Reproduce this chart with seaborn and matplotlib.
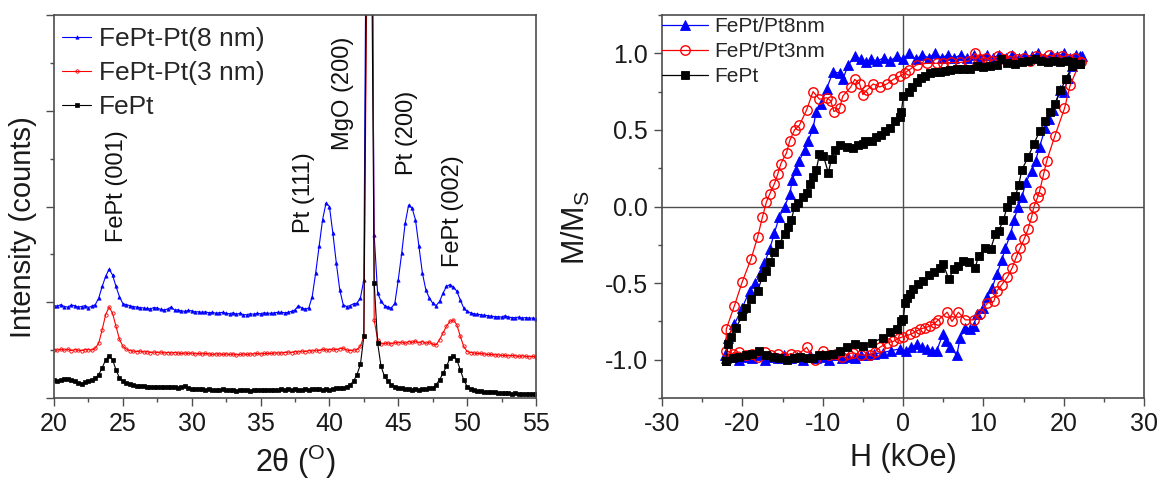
import numpy as np
import pandas as pd
import matplotlib
matplotlib.use("Agg")
import matplotlib.pyplot as plt
from matplotlib.ticker import MultipleLocator
import seaborn as sns

# ---------------- XRD data (left panel) ----------------
two_theta_start, two_theta_stop, two_theta_step = 20.0, 55.0, 0.25
xrd_pt8 = [
    1.93, 1.92, 1.95, 1.91, 1.90, 1.94, 1.93, 1.90, 1.91, 1.93, 1.89, 1.92, 1.95, 2.09, 2.33, 2.54,
    2.69, 2.57, 2.33, 2.12, 1.97, 1.95, 1.93, 1.91, 1.90, 1.89, 1.88, 1.87, 1.86, 1.89, 1.88, 1.85,
    1.84, 1.86, 1.90, 1.84, 1.84, 1.82, 1.81, 1.83, 1.82, 1.80, 1.80, 1.79, 1.80, 1.78, 1.79, 1.77,
    1.78, 1.79, 1.77, 1.76, 1.78, 1.75, 1.77, 1.74, 1.74, 1.76, 1.75, 1.77, 1.76, 1.78, 1.77, 1.77,
    1.78, 1.79, 1.79, 1.78, 1.79, 1.81, 1.84, 1.93, 1.88, 1.86, 1.88, 2.12, 2.61, 3.17, 3.72, 4.07,
    4.00, 3.44, 2.82, 2.26, 1.95, 1.91, 1.93, 1.97, 1.98, 2.09, 2.47, 14.0, 14.0, 3.40, 2.19, 2.02,
    1.93, 1.90, 1.88, 1.98, 2.47, 3.03, 3.65, 4.03, 3.97, 3.72, 3.17, 2.61, 2.26, 2.09, 1.98, 1.93,
    2.02, 2.19, 2.33, 2.37, 2.32, 2.23, 2.05, 1.88, 1.81, 1.78, 1.76, 1.75, 1.74, 1.73, 1.72, 1.71,
    1.70, 1.70, 1.69, 1.72, 1.69, 1.68, 1.68, 1.69, 1.67, 1.68, 1.67, 1.67, 1.66,
]
xrd_pt3 = [
    1.01, 1.00, 1.02, 1.00, 1.02, 0.99, 1.01, 1.00, 0.99, 1.01, 1.01, 1.00, 1.04, 1.15, 1.43, 1.74,
    1.90, 1.77, 1.50, 1.23, 1.08, 1.02, 0.99, 0.98, 0.97, 0.98, 0.96, 0.97, 0.95, 0.96, 0.95, 0.96,
    0.94, 0.95, 0.94, 0.95, 0.94, 0.93, 0.94, 0.93, 0.94, 0.92, 0.93, 0.92, 0.93, 0.92, 0.91, 0.92,
    0.92, 0.91, 0.92, 0.91, 0.92, 0.90, 0.91, 0.92, 0.91, 0.92, 0.92, 0.93, 0.92, 0.93, 0.93, 0.93,
    0.94, 0.94, 0.94, 0.95, 0.96, 0.95, 0.97, 0.96, 0.98, 0.97, 0.99, 0.98, 1.00, 0.99, 1.02, 1.00,
    1.01, 1.02, 1.01, 1.03, 1.04, 1.00, 0.99, 1.00, 1.01, 1.08, 1.29, 10.0, 20.0, 1.63, 1.22, 1.13,
    1.14, 1.15, 1.13, 1.16, 1.15, 1.17, 1.14, 1.18, 1.16, 1.19, 1.15, 1.18, 1.14, 1.17, 1.12, 1.11,
    1.22, 1.36, 1.50, 1.60, 1.63, 1.53, 1.29, 1.08, 0.97, 0.95, 0.94, 0.93, 0.93, 0.92, 0.91, 0.91,
    0.90, 0.90, 0.89, 0.89, 0.88, 0.89, 0.88, 0.87, 0.88, 0.87, 0.86, 0.87, 0.86,
]
xrd_fept = [
    0.38, 0.36, 0.37, 0.39, 0.40, 0.37, 0.35, 0.32, 0.30, 0.33, 0.35, 0.38, 0.42, 0.49, 0.63, 0.80,
    0.88, 0.80, 0.59, 0.42, 0.35, 0.32, 0.30, 0.28, 0.26, 0.25, 0.25, 0.24, 0.24, 0.23, 0.24, 0.23,
    0.23, 0.22, 0.22, 0.24, 0.21, 0.22, 0.25, 0.21, 0.19, 0.19, 0.18, 0.19, 0.17, 0.18, 0.17, 0.16,
    0.17, 0.18, 0.16, 0.17, 0.16, 0.15, 0.16, 0.17, 0.16, 0.15, 0.16, 0.17, 0.16, 0.17, 0.16, 0.17,
    0.17, 0.16, 0.18, 0.17, 0.19, 0.17, 0.18, 0.17, 0.17, 0.18, 0.17, 0.19, 0.19, 0.18, 0.17, 0.18,
    0.17, 0.19, 0.21, 0.20, 0.21, 0.24, 0.28, 0.35, 0.49, 0.70, 1.29, 12.0, 12.0, 2.40, 1.15, 0.66,
    0.45, 0.35, 0.28, 0.24, 0.21, 0.20, 0.19, 0.18, 0.17, 0.18, 0.17, 0.18, 0.19, 0.20, 0.21, 0.28,
    0.38, 0.52, 0.66, 0.83, 0.88, 0.80, 0.59, 0.38, 0.24, 0.18, 0.16, 0.15, 0.14, 0.13, 0.13, 0.12,
    0.12, 0.11, 0.10, 0.11, 0.10, 0.09, 0.10, 0.09, 0.08, 0.09, 0.08, 0.08, 0.08,
]
xrd_labels = ["FePt-Pt(8 nm)", "FePt-Pt(3 nm)", "FePt"]
peak_names = ["FePt (001)", "Pt (111)", "MgO (200)", "Pt (200)", "FePt (002)"]
peak_pos = [24.55, 38.16, 40.99, 45.64, 48.98]
peak_text_y = [3.26, 3.44, 5.18, 4.66, 2.73]

# ---------------- Hysteresis data (right panel) ----------------
H_pt8 = [22.3, 21.5, 20.8, 20.0, 19.2, 18.4, 17.6, 16.8, 16.0, 15.2, 14.4, 13.6, 12.8, 12.0, 11.2, 10.4,
         9.6, 8.8, 8.0, 7.2, 6.4, 5.6, 4.8, 4.0, 3.2, 2.4, 1.6, 0.8, 0.0, -0.8, -1.6, -2.4, -3.2, -4.0,
         -4.6, -5.2, -6.0, -6.8, -7.5, -7.9, -8.7, -9.5, -10.2, -10.8, -11.2, -11.8, -12.25, -12.9,
         -13.3, -13.8, -14.1, -14.75, -15.4, -16.0, -16.6, -17.25, -17.7, -18.4, -19.1, -20.0, -21.0,
         -21.8, -22.1,
         -22.0, -21.2, -20.4, -19.6, -18.8, -18.0, -17.2, -16.4, -15.6, -14.8, -14.0, -13.2, -12.4,
         -11.6, -10.8, -10.0, -9.2, -8.4, -7.6, -6.8, -6.0, -5.2, -4.5, -3.6, -2.5, -1.5, -0.4, 0.4,
         1.0, 1.7, 2.4, 3.0, 3.6, 4.2, 5.0, 5.4, 5.9, 6.7, 7.1, 7.75, 8.3, 8.8, 9.2, 10.0, 10.5, 11.1,
         11.7, 12.3, 12.75, 13.4, 13.8, 14.35, 14.8, 15.3, 16.0, 16.5, 17.0, 17.7, 18.2, 18.7, 19.6,
         20.0, 20.6, 21.05, 22.0]
M_pt8 = [0.98, 0.99, 0.97, 1.00, 0.98, 0.99, 0.97, 1.00, 0.98, 0.99, 0.97, 0.99, 0.97, 0.99, 0.97, 0.99,
         0.97, 0.99, 0.97, 0.99, 0.97, 0.99, 0.97, 1.00, 0.97, 0.99, 0.96, 1.00, 0.96, 0.98, 0.95, 0.97,
         0.95, 0.96, 0.94, 0.96, 0.98, 0.925, 0.83, 0.87, 0.88, 0.77, 0.67, 0.62, 0.51, 0.43, 0.37, 0.30,
         0.24, 0.17, 0.08, 0.0, -0.07, -0.17, -0.28, -0.37, -0.43, -0.50, -0.55, -0.66, -0.77, -0.86,
         -0.97,
         -0.99, -0.98, -1.00, -0.98, -0.99, -0.97, -1.00, -0.98, -0.99, -0.97, -0.99, -0.98, -1.00,
         -0.97, -0.99, -0.98, -1.00, -0.97, -0.99, -0.98, -0.99, -0.97, -0.97, -0.96, -0.955, -0.94,
         -0.93, -0.94, -0.92, -0.90, -0.92, -0.93, -0.94, -0.94, -0.83, -0.88, -0.92, -0.97, -0.86,
         -0.79, -0.80, -0.78, -0.70, -0.66, -0.59, -0.53, -0.44, -0.35, -0.27, -0.18, -0.09, 0.0, 0.06,
         0.16, 0.23, 0.30, 0.39, 0.51, 0.57, 0.63, 0.76, 0.75, 0.84, 0.92, 0.98]

H_pt3 = [22.2, 21.4, 20.6, 19.8, 19.0, 18.2, 17.4, 16.6, 15.8, 15.0, 14.2, 13.4, 12.6, 11.8, 11.0, 10.3,
         9.6, 9.0, 8.2, 7.1, 6.0, 5.0, 4.2, 3.0, 1.7, 0.7, 0.2, -0.4, -1.2, -2.0, -2.9, -3.7, -4.5,
         -5.0, -5.4, -6.0, -6.5, -7.5, -7.9, -8.6, -9.0, -9.5, -10.4, -11.2, -12.0, -12.9, -13.5,
         -14.1, -14.5, -15.2, -15.6, -16.0, -16.6, -17.0, -17.5, -18.1, -18.9, -20.0, -21.0, -22.0,
         -22.0, -21.2, -20.4, -19.6, -18.8, -18.0, -17.2, -16.4, -15.6, -14.8, -14.0, -13.2, -12.0,
         -11.0, -10.0, -9.2, -8.4, -7.6, -6.8, -6.2, -5.2, -4.1, -3.5, -2.9, -2.0, -1.2, -0.5, 0.0,
         0.9, 1.5, 2.1, 2.8, 3.4, 4.0, 4.4, 5.5, 6.1, 6.9, 7.75, 8.8, 9.6, 10.5, 11.3, 11.7, 12.3,
         13.0, 13.6, 14.1, 14.6, 15.1, 15.55, 16.0, 16.3, 16.75, 17.0, 17.5, 17.9, 18.9, 20.1, 20.8,
         22.0]
M_pt3 = [0.94, 0.97, 0.96, 0.98, 0.97, 0.99, 0.96, 0.98, 0.95, 0.97, 0.96, 0.98, 0.96, 0.98, 0.95, 0.97,
         0.96, 1.00, 0.95, 0.94, 0.94, 0.935, 0.935, 0.935, 0.925, 0.89, 0.87, 0.85, 0.83, 0.80, 0.78,
         0.80, 0.76, 0.73, 0.80, 0.83, 0.78, 0.72, 0.64, 0.62, 0.69, 0.71, 0.70, 0.75, 0.63, 0.53,
         0.50, 0.43, 0.35, 0.28, 0.21, 0.15, 0.08, 0.03, -0.07, -0.20, -0.34, -0.49, -0.65, -0.80,
         -0.94, -0.96, -0.95, -0.97, -0.96, -0.98, -0.95, -0.97, -0.96, -0.98, -0.96, -0.97, -0.92,
         -1.00, -0.94, -0.97, -0.96, -0.98, -0.96, -0.955, -0.97, -0.97, -0.95, -0.92, -0.89, -0.88,
         -0.86, -0.85, -0.835, -0.82, -0.80, -0.79, -0.78, -0.76, -0.74, -0.69, -0.75, -0.69, -0.74,
         -0.74, -0.70, -0.63, -0.62, -0.55, -0.51, -0.46, -0.40, -0.33, -0.27, -0.21, -0.15, -0.07,
         0.0, 0.06, 0.10, 0.21, 0.30, 0.46, 0.64, 0.79, 0.94]

H_fept = [22.0, 21.2, 20.4, 19.6, 18.8, 18.0, 17.2, 16.4, 15.6, 14.8, 14.0, 13.0, 12.2, 11.7, 10.8, 10.0,
          9.2, 8.4, 7.5, 6.7, 5.9, 5.2, 4.6, 4.0, 3.4, 2.8, 2.3, 1.7, 1.1, 0.7, 0.04, -0.2, -0.4, -1.0,
          -1.6, -2.25, -2.7, -3.3, -3.9, -4.75, -5.0, -5.6, -6.2, -7.0, -7.9, -8.5, -8.9, -9.3, -9.9,
          -10.4, -10.8, -11.2, -11.6, -12.0, -12.5, -13.1, -13.5, -13.9, -14.3, -14.75, -15.4, -16.0,
          -16.6, -17.0, -17.5, -18.1, -18.9, -19.5, -20.0, -20.8, -21.4, -21.8, -22.0,
          -22.0, -21.2, -20.4, -19.6, -18.8, -17.9, -17.0, -16.2, -15.4, -14.5, -13.6, -12.8, -12.0,
          -11.2, -10.4, -9.6, -8.7, -7.8, -7.0, -6.0, -5.0, -3.9, -2.5, -1.6, -0.8, -0.2, 0.04, 0.25,
          0.46, 0.9, 1.3, 1.9, 2.5, 3.2, 3.8, 4.6, 5.0, 5.7, 6.3, 6.9, 7.5, 8.2, 9.0, 9.4, 10.25, 10.9,
          11.5, 11.9, 12.5, 12.96, 13.4, 14.0, 14.4, 14.8, 15.55, 16.3, 17.0, 17.7, 18.3, 18.9, 19.6,
          20.3, 21.05, 22.0]
M_fept = [0.93, 0.94, 0.95, 0.94, 0.95, 0.94, 0.95, 0.96, 0.95, 0.94, 0.93, 0.935, 0.96, 0.925, 0.92,
          0.91, 0.915, 0.90, 0.90, 0.895, 0.89, 0.885, 0.88, 0.875, 0.87, 0.855, 0.84, 0.815, 0.78,
          0.75, 0.72, 0.62, 0.585, 0.56, 0.51, 0.49, 0.465, 0.455, 0.43, 0.43, 0.41, 0.40, 0.385, 0.39,
          0.40, 0.37, 0.31, 0.22, 0.33, 0.34, 0.24, 0.19, 0.15, 0.09, 0.06, 0.02, 0.0, -0.09, -0.135,
          -0.18, -0.245, -0.30, -0.365, -0.42, -0.46, -0.55, -0.605, -0.66, -0.715, -0.79, -0.85,
          -0.90, -1.01,
          -1.01, -0.99, -0.98, -0.97, -0.96, -0.945, -0.97, -0.98, -0.99, -1.00, -0.99, -0.98, -0.99,
          -0.99, -0.97, -0.97, -0.966, -0.94, -0.92, -0.90, -0.91, -0.89, -0.857, -0.82, -0.80, -0.75,
          -0.737, -0.63, -0.60, -0.573, -0.54, -0.507, -0.485, -0.45, -0.43, -0.40, -0.376, -0.474,
          -0.41, -0.387, -0.354, -0.365, -0.40, -0.32, -0.27, -0.28, -0.18, -0.157, -0.09, 0.0, 0.04,
          0.07, 0.14, 0.24, 0.32, 0.41, 0.49, 0.56, 0.62, 0.67, 0.76, 0.83, 0.92, 0.93]
loop_labels = ["FePt/Pt8nm", "FePt/Pt3nm", "FePt"]

# ---------------- style ----------------
sns.set_style("white")
plt.rcParams['font.family'] = ['Liberation Sans', 'DejaVu Sans']
plt.rcParams['mathtext.fontset'] = 'custom'
plt.rcParams['mathtext.rm'] = 'Liberation Sans'
plt.rcParams['mathtext.it'] = 'Liberation Sans:italic'
plt.rcParams['axes.unicode_minus'] = False

W, Hh = 1160, 487
fig = plt.figure(figsize=(W / 100, Hh / 100), dpi=100)
ax1 = fig.add_axes([54 / W, 1 - 398 / Hh, 482 / W, 383 / Hh])
ax2 = fig.add_axes([662 / W, 1 - 398 / Hh, 482 / W, 383 / Hh])

spine_col = '#4d4d4d'
for ax in (ax1, ax2):
    for s in ax.spines.values():
        s.set_color(spine_col)
        s.set_linewidth(1.2)
        s.set_visible(True)
    ax.tick_params(which='both', direction='out', color=spine_col, width=1.0,
                   bottom=True, left=True, top=False, right=False)
    ax.tick_params(which='major', length=6, labelsize=18, pad=4, labelcolor='#1a1a1a')
    ax.tick_params(which='minor', length=3)

# ---------------- left panel ----------------
n = int(round((two_theta_stop - two_theta_start) / two_theta_step)) + 1
tt = np.round(np.linspace(two_theta_start, two_theta_stop, n), 2)
xrd_df = pd.concat([
    pd.DataFrame({"tt": tt, "I": xrd_pt8, "s": xrd_labels[0]}),
    pd.DataFrame({"tt": tt, "I": xrd_pt3, "s": xrd_labels[1]}),
    pd.DataFrame({"tt": tt, "I": xrd_fept, "s": xrd_labels[2]}),
])
xrd_styles = [
    dict(color='#0000ff', marker='^', markersize=2.4, markeredgewidth=0.5,
         markeredgecolor='#0000ff', markerfacecolor='#0000ff'),
    dict(color='#ff0000', marker='o', markersize=2.4, markerfacecolor='none',
         markeredgecolor='#ff0000', markeredgewidth=0.6),
    dict(color='#000000', marker='s', markersize=2.2, markeredgewidth=0.5,
         markeredgecolor='#000000', markerfacecolor='#000000'),
]
for lab, st in zip(xrd_labels, xrd_styles):
    sub = xrd_df[xrd_df["s"] == lab]
    sns.lineplot(data=sub, x="tt", y="I", ax=ax1, sort=False, estimator=None,
                 linewidth=0.8, label=lab, **st)

ax1.set_xlim(20, 55)
ax1.set_ylim(0, 8)
ax1.xaxis.set_major_locator(MultipleLocator(5))
ax1.xaxis.set_minor_locator(MultipleLocator(2.5))
ax1.yaxis.set_major_locator(MultipleLocator(2))
ax1.yaxis.set_minor_locator(MultipleLocator(1))
ax1.set_yticklabels([])
ax1.set_xlabel("2θ ($^{\\mathrm{O}}$)", fontsize=22, color='#1a1a1a')
ax1.set_ylabel("Intensity (counts)", fontsize=21, color='#1a1a1a')
ax1.yaxis.set_label_coords(-0.035, 0.445)
ax1.xaxis.set_label_coords(0.5, -0.118)
for name, px, py in zip(peak_names, peak_pos, peak_text_y):
    ax1.text(px, py, name, rotation=90, ha='center', va='bottom', fontsize=17, color='#111111')
leg1 = ax1.legend(loc='upper left', bbox_to_anchor=(0.0166, 0.968), frameon=False,
                  fontsize=19, handlelength=1.1, handletextpad=0.3, labelspacing=0.38,
                  borderpad=0, borderaxespad=0, markerscale=1.0)

# ---------------- right panel ----------------
ax2.axhline(0, color='#4d4d4d', lw=1.0, zorder=0)
ax2.axvline(0, color='#4d4d4d', lw=1.0, zorder=0)
loop_df = pd.concat([
    pd.DataFrame({"H": H_pt8, "M": M_pt8, "s": loop_labels[0], "o": range(len(H_pt8))}),
    pd.DataFrame({"H": H_pt3, "M": M_pt3, "s": loop_labels[1], "o": range(len(H_pt3))}),
    pd.DataFrame({"H": H_fept, "M": M_fept, "s": loop_labels[2], "o": range(len(H_fept))}),
])
loop_styles = [
    dict(color='#0000ff', marker='^', markersize=7.5, markeredgewidth=0.6,
         markeredgecolor='#0000ff', markerfacecolor='#0000ff'),
    dict(color='#ff0000', marker='o', markersize=6.8, markerfacecolor='none',
         markeredgecolor='#ff0000', markeredgewidth=1.0),
    dict(color='#000000', marker='s', markersize=6.2, markeredgewidth=0.6,
         markeredgecolor='#000000', markerfacecolor='#000000'),
]
for lab, st in zip(loop_labels, loop_styles):
    sub = loop_df[loop_df["s"] == lab].sort_values("o")
    sns.lineplot(data=sub, x="H", y="M", ax=ax2, sort=False, estimator=None,
                 linewidth=0.9, label=lab, **st)

ax2.set_xlim(-30, 30)
ax2.set_ylim(-1.25, 1.25)
ax2.xaxis.set_major_locator(MultipleLocator(10))
ax2.xaxis.set_minor_locator(MultipleLocator(5))
ax2.yaxis.set_major_locator(MultipleLocator(0.5))
ax2.yaxis.set_minor_locator(MultipleLocator(0.25))
ax2.yaxis.set_major_formatter(matplotlib.ticker.FormatStrFormatter('%.1f'))
ax2.set_xlabel("H (kOe)", fontsize=22, color='#1a1a1a')
ax2.set_ylabel("M/M$_{\\mathrm{S}}$", fontsize=22, color='#1a1a1a')
ax2.xaxis.set_label_coords(0.5, -0.118)
ax2.yaxis.set_label_coords(-0.145, 0.445)
leg2 = ax2.legend(loc='upper left', bbox_to_anchor=(0.0, 0.995), frameon=False,
                  fontsize=15, handlelength=2.2, handletextpad=0.3, labelspacing=0.3,
                  borderpad=0, borderaxespad=0)

fig.savefig("out.png", dpi=100)
